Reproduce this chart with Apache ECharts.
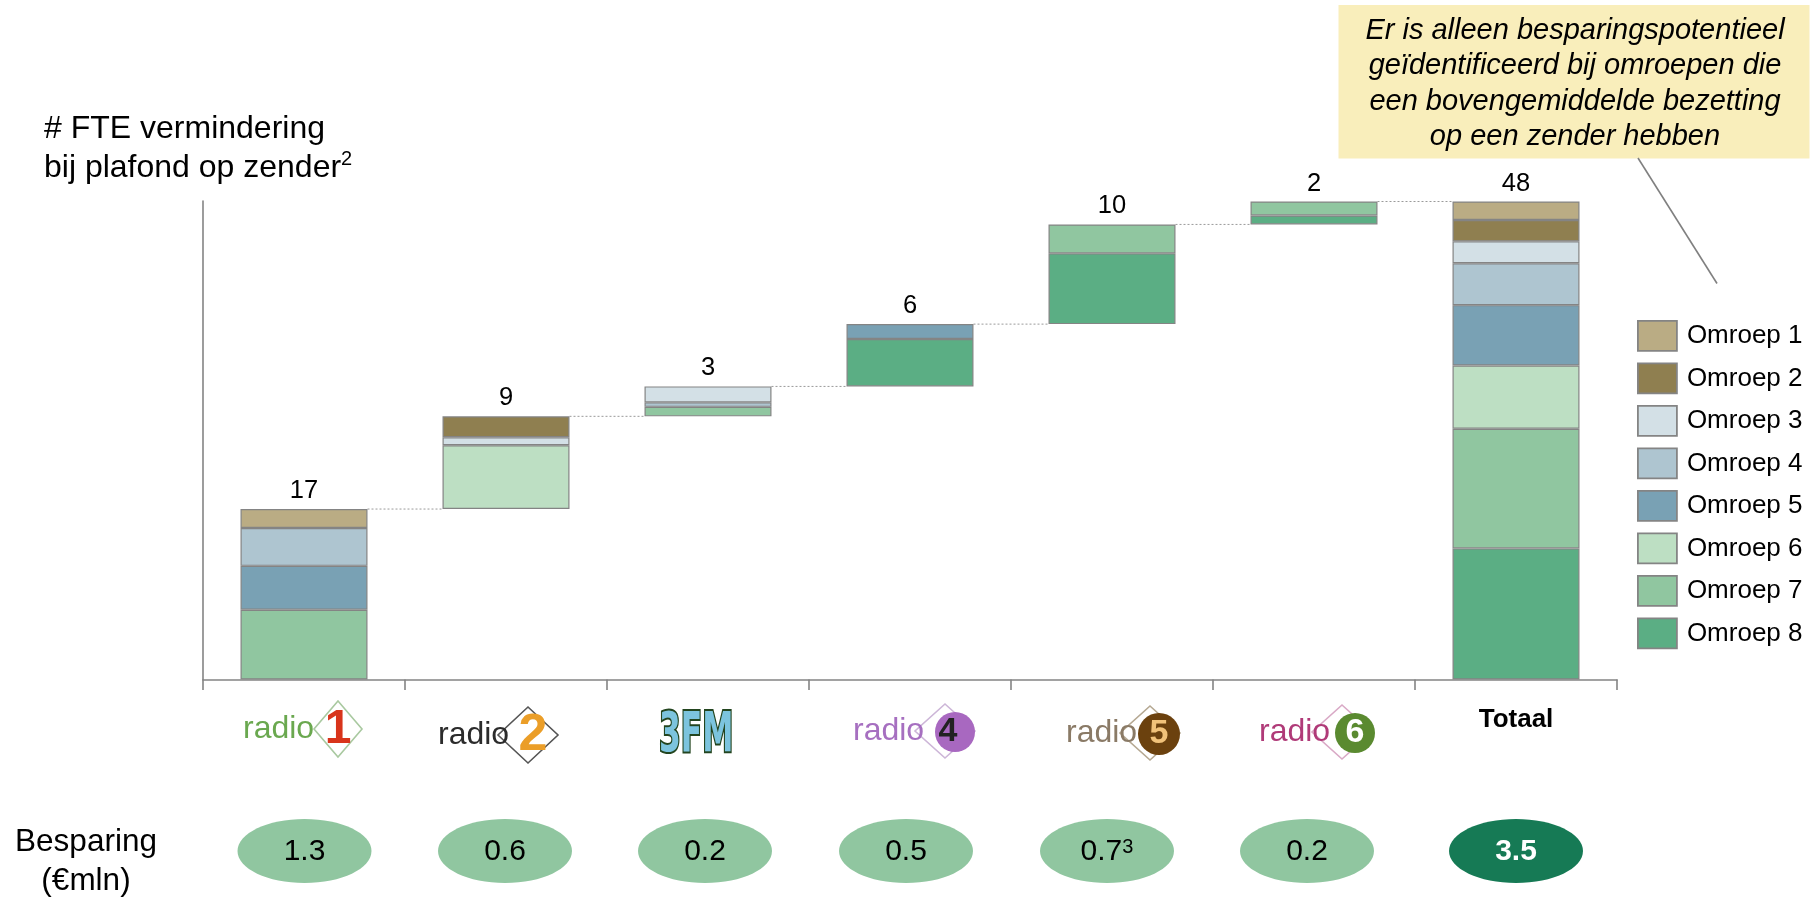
<!DOCTYPE html>
<html><head><meta charset="utf-8">
<style>html,body{margin:0;padding:0;background:#fff}#c{width:1816px;height:898px}</style>
<script src="https://cdn.jsdelivr.net/npm/echarts@6/dist/echarts.min.js"></script>
</head><body><div id="c"></div>
<script>
const categories = ['radio 1','radio 2','3FM','radio 4','radio 5','radio 6','Totaal'];
const totalsLabels = ['17','9','3','6','10','2','48'];
const savings = ['1.3','0.6','0.2','0.5','0.7','0.2','3.5'];
const omroep1 = [1.9, 0, 0, 0, 0, 0, 1.85];
const omroep2 = [0, 2.1, 0, 0, 0, 0, 2.15];
const omroep3 = [0, 0.8, 1.6, 0, 0, 0, 2.2];
const omroep4 = [3.8, 0, 0.45, 0, 0, 0, 4.2];
const omroep5 = [4.4, 0, 0, 1.5, 0, 0, 6.05];
const omroep6 = [0, 6.4, 0, 0, 0, 0, 6.35];
const omroep7 = [7.0, 0, 0.95, 0, 2.9, 1.4, 12.0];
const omroep8 = [0, 0, 0, 4.75, 7.1, 0.9, 13.15];
const seriesNames = ['Omroep 1','Omroep 2','Omroep 3','Omroep 4','Omroep 5','Omroep 6','Omroep 7','Omroep 8'];
const seriesValues = [omroep1,omroep2,omroep3,omroep4,omroep5,omroep6,omroep7,omroep8];
const seriesColors = ['#baac84','#8f7f50','#d3e0e6','#aec5d0','#79a1b4','#bddfc3','#90c6a0','#5bae84'];

const BAR_W = 127, GREY = '#848484', FONT = '"Liberation Sans", Arial, sans-serif';
const barSum = i => seriesValues.reduce((s,a)=>s+a[i],0);
const bases = categories.map((_,i)=>{
  if(i===categories.length-1) return 0;
  let s=0; for(let k=0;k<i;k++) s+=barSum(k); return s;
});
const tops = categories.map((_,i)=>bases[i]+barSum(i));

// Logo styling, offsets relative to the category centre on the axis
const logos = [
  {x:-61,y:729,fs:32,word:'#6aa84f',num:'1',numCol:'#d8341b',numFs:48,numX:34,dia:'#a9c9a0',diaX:34,hw:24,hh:28},
  {x:-68,y:735,fs:32,word:'#2b2b2b',num:'2',numCol:'#eb9e28',numFs:52,numX:27,dia:'#555',diaX:22,hw:30,hh:28},
  {x:-49,y:736,threeFM:true},
  {x:-57,y:731,fs:32,word:'#a66fc0',num:'4',numCol:'#222',numFs:34,numX:38,disc:'#a868c0',discX:45,r:20,dia:'#cdb6d8',diaX:35,hw:30,hh:27},
  {x:-46,y:733,fs:32,word:'#8a7a66',num:'5',numCol:'#f1c27a',numFs:34,numX:47,disc:'#6b410e',discX:47,r:21,dia:'#b5a892',diaX:38,hw:30,hh:27},
  {x:-55,y:732,fs:32,word:'#b03a78',num:'6',numCol:'#fff',numFs:34,numX:41,disc:'#5a8a30',discX:41,r:20,dia:'#d9a9c6',diaX:28,hw:30,hh:27}
];

const stackSeries = [
  {name:'base',type:'bar',stack:'s',barWidth:BAR_W,silent:true,itemStyle:{color:'transparent',borderWidth:0},data:bases,z:1},
  ...seriesNames.map((n,k)=>({name:n,type:'bar',stack:'s',barWidth:BAR_W,
    itemStyle:{color:seriesColors[k],borderColor:GREY,borderWidth:1.2},
    data:seriesValues[k].map(v=>v===0?null:v),z:2})).reverse()
];

const connectors = {
  type:'custom',coordinateSystem:'cartesian2d',silent:true,z:1,clip:false,
  data:categories.slice(0,-1).map((c,i)=>[i,tops[i]]),
  renderItem(p,api){
    const i=api.value(0), y=api.coord([i,api.value(1)]);
    const n=api.coord([i+1,api.value(1)]);
    return {type:'line',shape:{x1:y[0]+BAR_W/2,y1:y[1],x2:n[0]-BAR_W/2,y2:y[1]},
      style:{stroke:'#9a9a9a',lineWidth:1,lineDash:[2,2]}};
  }
};

const valueLabels = {
  type:'scatter',symbolSize:0,silent:true,z:5,itemStyle:{opacity:1},
  data:categories.map((c,i)=>[i,tops[i]]),
  label:{show:true,position:'top',distance:5,color:'#000',opacity:1,fontSize:25.5,fontFamily:FONT,
    formatter:p=>totalsLabels[p.dataIndex]}
};

const logoSeries = {
  type:'custom',coordinateSystem:'cartesian2d',silent:true,z:6,clip:false,
  data:logos.map((l,i)=>[i,0]),
  renderItem(p,api){
    const i=api.value(0), c=api.coord([i,0]), l=logos[i];
    const x0=c[0]+l.x, y0=l.y, kids=[];
    if(l.threeFM){
      kids.push({type:'text',x:x0,y:y0,scaleX:0.56,style:{text:'3FM',x:0,y:0,font:'bold 56px "DejaVu Sans", sans-serif',fill:'#7cc4de',
        stroke:'#23451f',lineWidth:4,verticalAlign:'middle',textAlign:'left'}});
      return {type:'group',children:kids};
    }
    const dc=c[0]+l.diaX;
    kids.push({type:'polygon',shape:{points:[[dc,y0-l.hh],[dc+l.hw,y0],[dc,y0+l.hh],[dc-l.hw,y0]]},
      style:{fill:'none',stroke:l.dia,lineWidth:1.6}});
    if(l.disc) kids.push({type:'circle',shape:{cx:c[0]+l.discX,cy:y0+1,r:l.r},style:{fill:l.disc}});
    kids.push({type:'text',style:{text:'radio',x:x0,y:y0,font:l.fs+'px '+FONT,fill:l.word,verticalAlign:'middle',textAlign:'left'}});
    kids.push({type:'text',style:{text:l.num,x:c[0]+l.numX,y:y0+1,font:'bold '+l.numFs+'px '+FONT,fill:l.numCol,verticalAlign:'middle',textAlign:'center'}});
    return {type:'group',children:kids};
  }
};

const ovalDx=[0.5,-1,-3,-4,-5,-7,0];
const ovalSeries = {
  type:'custom',coordinateSystem:'cartesian2d',silent:true,z:6,clip:false,
  data:savings.map((s,i)=>[i,0]),
  renderItem(p,api){
    const i=api.value(0), c=api.coord([i,0]), last=i===savings.length-1, cx=c[0]+ovalDx[i], cy=851;
    const sup=i===4;
    return {type:'group',children:[
      {type:'ellipse',shape:{cx,cy,rx:67,ry:32},style:{fill:last?'#167a55':'#90c6a0'}},
      {type:'text',style:{x:cx,y:cy+1,textAlign:'center',verticalAlign:'middle',
        text:sup?'{n|'+savings[i]+'}{s|3}':savings[i],
        font:(last?'bold ':'')+'30px '+FONT,fill:last?'#fff':'#000',
        rich:{n:{fontSize:30,fontFamily:FONT,fill:'#000'},s:{fontSize:20,fontFamily:FONT,fill:'#000',verticalAlign:'top',padding:[0,0,8,0]}}}}
    ]};
  }
};

const chart = echarts.init(document.getElementById('c'),null,{renderer:'canvas'});
chart.setOption({
  animation:false,backgroundColor:'#fff',
  grid:{left:203,top:201,width:1414,height:478.5,containLabel:false},
  xAxis:{type:'category',data:categories,
    axisLine:{lineStyle:{color:GREY,width:1.6}},
    axisTick:{show:true,length:10.5,alignWithLabel:false,lineStyle:{color:GREY,width:1.6}},
    axisLabel:{margin:25,interval:0,color:'#000',fontFamily:FONT,fontSize:26,fontWeight:'bold',lineHeight:30,
      formatter:v=>v==='Totaal'?v:''}},
  yAxis:{type:'value',min:0,max:48,show:true,splitLine:{show:false},axisTick:{show:false},axisLabel:{show:false},
    axisLine:{show:true,lineStyle:{color:GREY,width:1.6}}},
  legend:{orient:'vertical',left:1637,top:320,padding:0,itemWidth:39,itemHeight:30,itemGap:10.7,
    data:seriesNames,selectedMode:false,icon:'rect',
    itemStyle:{borderWidth:1.8,borderColor:GREY},
    textStyle:{fontFamily:FONT,fontSize:26,lineHeight:30,height:30,color:'#000',padding:[0,0,0,5]}},
  series:[...stackSeries,connectors,valueLabels,logoSeries,ovalSeries],
  graphic:[
    {type:'rect',shape:{x:1338.5,y:5,width:471,height:153.5},style:{fill:'#f9eebb'},z:10},
    {type:'line',shape:{x1:1638,y1:158,x2:1717,y2:283.5},style:{stroke:'#808080',lineWidth:1.6},z:10},
    {type:'text',x:1575,y:84,z:11,style:{text:'Er is alleen besparingspotentieel\ngeïdentificeerd bij omroepen die\neen bovengemiddelde bezetting\nop een zender hebben',
      font:'italic 29px '+FONT,lineHeight:35.5,textAlign:'center',verticalAlign:'middle',fill:'#000'}},
    {type:'text',x:44,y:149,z:11,style:{text:'# FTE vermindering\nbij plafond op zender{s|2}',font:'32px '+FONT,lineHeight:39,
      textAlign:'left',verticalAlign:'middle',fill:'#000',rich:{s:{fontSize:20,fontFamily:FONT,verticalAlign:'top',padding:[0,0,6,0]}}}},
    {type:'text',x:86,y:862,z:11,style:{text:'Besparing\n(€mln)',font:'31.5px '+FONT,lineHeight:39,textAlign:'center',verticalAlign:'middle',fill:'#000'}}
  ]
});
</script></body></html>
